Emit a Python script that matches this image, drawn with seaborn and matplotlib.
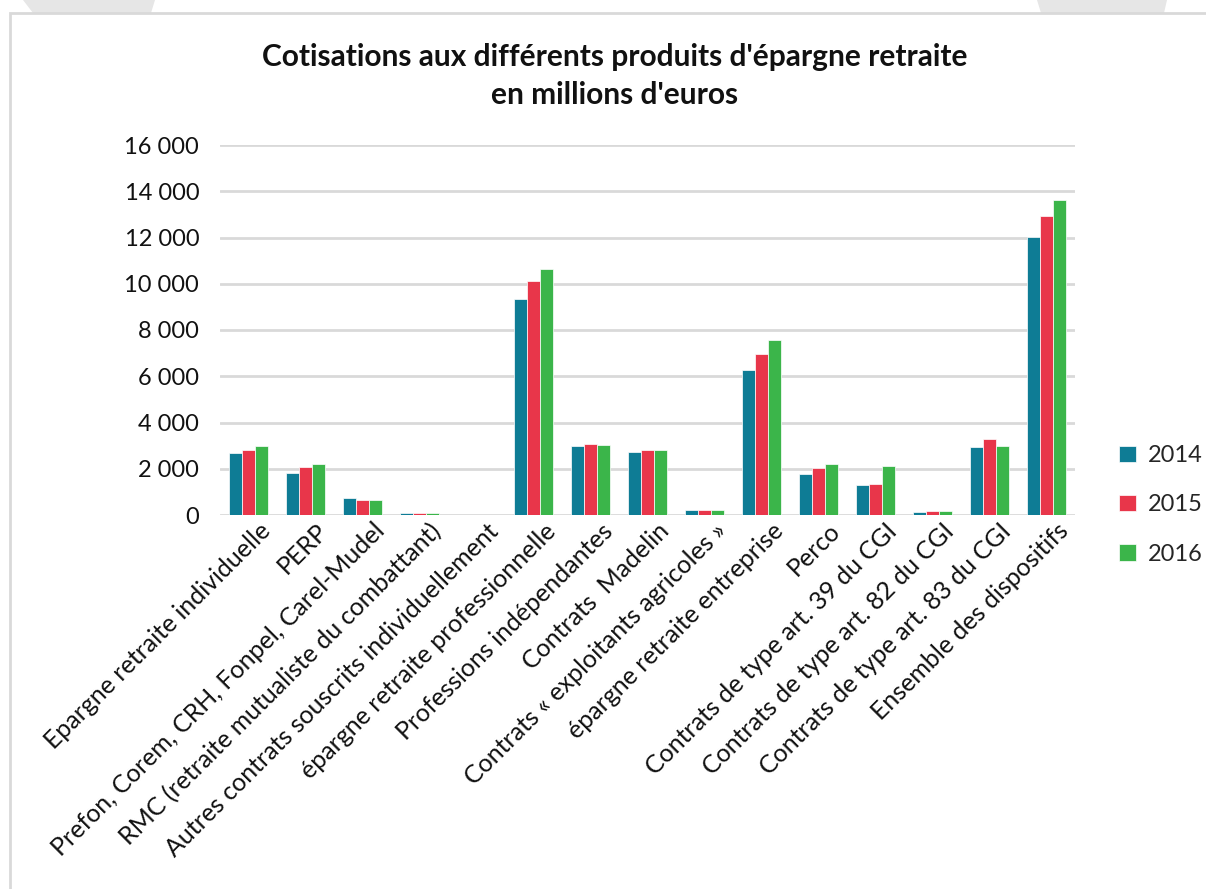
import matplotlib
matplotlib.use("Agg")
import matplotlib.pyplot as plt
import matplotlib.transforms as mtransforms
from matplotlib.patches import Polygon, Rectangle
import seaborn as sns
import pandas as pd

# Categories of retirement savings products
categories = [
    "Epargne retraite individuelle",
    "PERP",
    "Prefon, Corem, CRH, Fonpel, Carel-Mudel",
    "RMC (retraite mutualiste du combattant)",
    "Autres contrats souscrits individuellement",
    "épargne retraite professionnelle",
    "Professions indépendantes",
    "Contrats  Madelin",
    "Contrats « exploitants agricoles »",
    "épargne retraite entreprise",
    "Perco",
    "Contrats de type art. 39 du CGI",
    "Contrats de type art. 82 du CGI",
    "Contrats de type art. 83 du CGI",
    "Ensemble des dispositifs",
]

years = ["2014", "2015", "2016"]

# Contributions in millions of euros
values_2014 = [2680, 1820, 740, 100, 0, 9330, 3000, 2740, 230, 6290, 1780, 1310, 150, 2940, 12030]
values_2015 = [2800, 2060, 640, 100, 0, 10100, 3090, 2810, 230, 6980, 2040, 1350, 175, 3300, 12940]
values_2016 = [2970, 2220, 640, 90, 0, 10650, 3040, 2790, 200, 7560, 2200, 2130, 160, 2970, 13640]

colors = ["#0E7C95", "#E8364A", "#3BB54A"]
yticks = [0, 2000, 4000, 6000, 8000, 10000, 12000, 14000, 16000]

df = pd.DataFrame({
    "categorie": categories * 3,
    "annee": [y for y in years for _ in categories],
    "valeur": values_2014 + values_2015 + values_2016,
})

sns.set_theme(style="white")
plt.rcParams["font.family"] = ["Lato", "DejaVu Sans"]

W, H = 1206, 889
fig = plt.figure(figsize=(W / 100, H / 100), dpi=100)
fig.patch.set_facecolor("white")


def px(x, y):
    return (x / W, 1 - y / H)


# faint background shapes above the chart frame
for poly in ([(23, 0), (155, 0), (151, 13), (33, 13)],
             [(1037, 0), (1167, 0), (1164, 13), (1041, 13)]):
    fig.patches.append(Polygon([px(*p) for p in poly], closed=True,
                               transform=fig.transFigure, facecolor="#E6E6E6",
                               edgecolor="none", zorder=-2))
# chart frame
fig.patches.append(Rectangle(px(10, 900), (W + 20) / W, (900 - 13) / H,
                             transform=fig.transFigure, facecolor="white",
                             edgecolor="#D9D9D9", linewidth=2, zorder=-1))

ax = fig.add_axes([220 / W, 1 - 515 / H, (1075 - 220) / W, (515 - 145) / H])
ax.set_facecolor("none")
ax.set_zorder(1)

sns.barplot(data=df, x="categorie", y="valeur", hue="annee", palette=colors,
            saturation=1, width=0.67, gap=0, edgecolor="#FFFFFF", linewidth=0.5,
            errorbar=None, ax=ax, zorder=3)

ax.set_ylim(0, 16000)
ax.set_xlim(-0.5, len(categories) - 0.5)
ax.set_yticks(yticks)
ax.set_yticklabels([f"{v:,}".replace(",", " ") for v in yticks], fontsize=17, color="#111111")
ax.yaxis.grid(True, color="#D9D9D9", linewidth=2, zorder=0)
ax.set_axisbelow(True)
for s in ax.spines.values():
    s.set_visible(False)
ax.tick_params(axis="y", length=0, pad=15)
ax.tick_params(axis="x", length=0, pad=3)
ax.set_xlabel("")
ax.set_ylabel("")

ax.set_xticks(range(len(categories)))
ax.set_xticklabels(categories, rotation=45, ha="right", va="top",
                   rotation_mode="anchor", fontsize=18, color="#111111")
offset = mtransforms.ScaledTranslation(10 / 100, 0, fig.dpi_scale_trans)
for lab in ax.get_xticklabels():
    lab.set_transform(lab.get_transform() + offset)

ax.legend(title=None, loc="center left",
          bbox_to_anchor=((1098 - 220) / (1075 - 220), (515 - 505) / 370),
          frameon=False, fontsize=17, handlelength=0.7, handleheight=0.7,
          handletextpad=0.5, labelspacing=1.2)

fig.text(615 / W, 1 - 76 / H,
         "Cotisations aux différents produits d'épargne retraite\nen millions d'euros",
         ha="center", va="center", fontsize=21.5, fontweight="bold",
         color="#111111", linespacing=1.45)

fig.savefig("out.png", dpi=100)
